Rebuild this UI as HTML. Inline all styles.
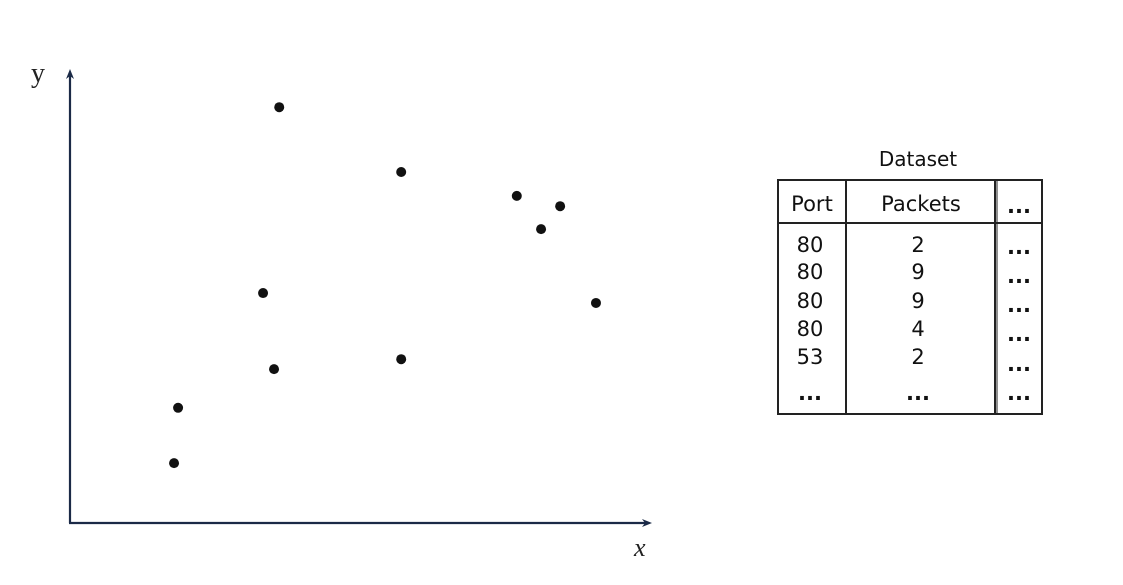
<!DOCTYPE html>
<html><head><meta charset="utf-8"><style>
body{margin:0;background:#fff;width:1123px;height:581px;overflow:hidden;font-family:"DejaVu Sans","Liberation Sans",sans-serif}
</style></head><body>
<svg width="1123" height="581" id="svg">
<defs><marker id="ah" markerWidth="10" markerHeight="10" refX="5" refY="5" orient="auto" markerUnits="userSpaceOnUse"><path d="M0,1 L10,5 L0,9 L3,5 Z" fill="#1b2a47"/></marker></defs>
<line x1="70" y1="523" x2="70" y2="74" stroke="#1b2a47" stroke-width="2.2" marker-end="url(#ah)"/>
<line x1="69" y1="523" x2="647" y2="523" stroke="#1b2a47" stroke-width="2.2" marker-end="url(#ah)"/>
<text x="31" y="82" font-family="Liberation Serif,serif" font-size="28" fill="#222">y</text>
<text x="634" y="556" font-family="Liberation Serif,serif" font-style="italic" font-size="26" fill="#222">x</text>
<g id="pts"></g>
<g font-size="21" fill="#111" text-anchor="middle">
<text x="918" y="166" font-size="20">Dataset</text>
<rect x="778" y="180" width="264" height="234" fill="none" stroke="#222" stroke-width="2"/>
<line x1="778" y1="223" x2="1042" y2="223" stroke="#222" stroke-width="2"/>
<line x1="846" y1="180" x2="846" y2="414" stroke="#222" stroke-width="2"/>
<line x1="995" y1="180" x2="995" y2="414" stroke="#222" stroke-width="2"/>
<line x1="997" y1="180" x2="997" y2="414" stroke="#222" stroke-width="1"/>
<text x="812" y="211">Port</text><text x="921" y="211">Packets</text>
<text x="810" y="252">80</text><text x="918" y="252">2</text>
<text x="810" y="279">80</text><text x="918" y="279">9</text>
<text x="810" y="308">80</text><text x="918" y="308">9</text>
<text x="810" y="336">80</text><text x="918" y="336">4</text>
<text x="810" y="364">53</text><text x="918" y="364">2</text>
<g font-weight="bold">
<text x="1019" y="213">...</text>
<text x="810" y="400">...</text><text x="918" y="400">...</text>
<text x="1019" y="254">...</text><text x="1019" y="283">...</text><text x="1019" y="312">...</text><text x="1019" y="341">...</text><text x="1019" y="371">...</text><text x="1019" y="400">...</text>
</g>
</g>
</svg>
<script>
const xValues=[36.2,57.3,77.3,84.8,81.5,33.4,91.0,35.3,57.3,18.7,18.0];
const yValues=[92.4,78.0,72.7,70.4,65.3,51.1,48.9,34.2,36.4,25.6,13.3];
function sx(v){return 70+v*5.78;}
function sy(v){return 523-v*4.5;}
const g=document.getElementById('pts');
xValues.forEach((x,i)=>{
 const c=document.createElementNS('http://www.w3.org/2000/svg','circle');
 c.setAttribute('cx',sx(x));c.setAttribute('cy',sy(yValues[i]));c.setAttribute('r',5);c.setAttribute('fill','#111');
 
 
 g.appendChild(c);
});
</script>
</body></html>
